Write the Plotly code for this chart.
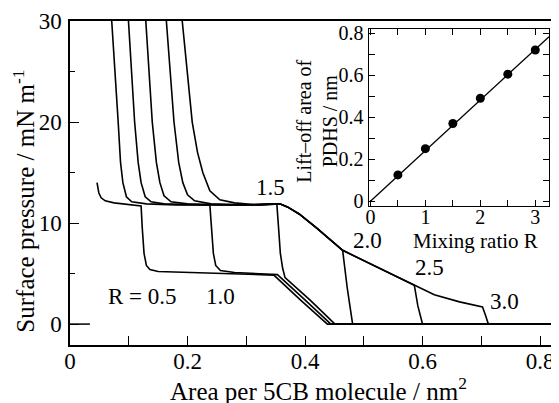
import plotly.graph_objects as go

# ---------------- data ----------------
# Main isotherms: area per 5CB molecule (nm^2) vs surface pressure (mN/m)
r05_area = [0.046, 0.049, 0.053, 0.060, 0.075, 0.100, 0.121, 0.123, 0.126, 0.130, 0.136, 0.150, 0.200, 0.260, 0.320, 0.347, 0.392, 0.438, 0.829]
r05_pres = [14.0, 13.0, 12.5, 12.2, 12.0, 11.8, 11.7, 9.5, 7.0, 5.8, 5.4, 5.2, 5.1, 5.0, 4.9, 4.85, 2.4, 0.0, 0.0]

r10_area = [0.071, 0.077, 0.082, 0.086, 0.090, 0.096, 0.105, 0.130, 0.180, 0.238, 0.241, 0.244, 0.248, 0.256, 0.280, 0.330, 0.353, 0.398, 0.444, 0.829]
r10_pres = [30.0, 25.0, 20.0, 16.0, 14.0, 12.6, 12.1, 11.9, 11.8, 11.8, 9.5, 7.0, 5.8, 5.3, 5.1, 5.0, 4.9, 2.5, 0.0, 0.0]

r15_area = [0.0995, 0.105, 0.110, 0.116, 0.121, 0.128, 0.138, 0.160, 0.220, 0.300, 0.352, 0.355, 0.358, 0.362, 0.366, 0.410, 0.451, 0.829]
r15_pres = [30.0, 25.0, 20.0, 16.0, 14.0, 12.6, 12.1, 11.9, 11.8, 11.8, 11.9, 9.5, 7.0, 5.5, 4.6, 2.3, 0.0, 0.0]

r20_area = [0.129, 0.135, 0.140, 0.147, 0.153, 0.160, 0.172, 0.200, 0.260, 0.320, 0.357, 0.370, 0.390, 0.420, 0.464, 0.472, 0.481, 0.829]
r20_pres = [30.0, 25.0, 20.0, 16.0, 14.0, 12.7, 12.1, 11.9, 11.8, 11.8, 11.9, 11.6, 10.9, 9.5, 7.3, 3.5, 0.0, 0.0]

r25_area = [0.164, 0.170, 0.177, 0.185, 0.192, 0.200, 0.212, 0.240, 0.300, 0.357, 0.370, 0.390, 0.420, 0.464, 0.500, 0.532, 0.560, 0.586, 0.592, 0.600, 0.829]
r25_pres = [30.0, 25.0, 20.0, 16.0, 14.0, 12.8, 12.2, 11.9, 11.8, 11.9, 11.6, 10.9, 9.5, 7.3, 6.3, 5.4, 4.6, 3.85, 1.8, 0.0, 0.0]

r30_area = [0.191, 0.199, 0.208, 0.217, 0.226, 0.238, 0.255, 0.280, 0.320, 0.357, 0.370, 0.390, 0.420, 0.464, 0.500, 0.532, 0.560, 0.586, 0.620, 0.663, 0.690, 0.702, 0.707, 0.712, 0.829]
r30_pres = [30.0, 25.0, 20.0, 17.0, 15.0, 13.2, 12.3, 12.0, 11.8, 11.9, 11.6, 10.9, 9.5, 7.3, 6.3, 5.4, 4.6, 3.85, 2.9, 2.2, 1.9, 1.7, 0.9, 0.0, 0.0]

curve_labels = ["R = 0.5", "1.0", "1.5", "2.0", "2.5", "3.0"]
label_area = [0.124, 0.256, 0.341, 0.507, 0.612, 0.740]
label_pres = [2.7, 2.7, 13.5, 8.3, 5.6, 2.2]

# Inset: lift-off area of PDHS vs mixing ratio R
mix_ratio = [0.5, 1.0, 1.5, 2.0, 2.5, 3.0]
liftoff = [0.125, 0.25, 0.37, 0.49, 0.605, 0.72]
fit_ratio = [0.0, 3.25]
fit_slope = 0.241

main_xticks = [0, 0.2, 0.4, 0.6, 0.8]
main_yticks = [0, 10, 20, 30]
inset_xticks = [0, 1, 2, 3]
inset_yticks = [0, 0.2, 0.4, 0.6, 0.8]

# ---------------- figure ----------------
FONT = "Liberation Serif, Times New Roman, Times, serif"
fig = go.Figure()

curves = [(r05_area, r05_pres), (r10_area, r10_pres), (r15_area, r15_pres),
          (r20_area, r20_pres), (r25_area, r25_pres), (r30_area, r30_pres)]
for xs, ys in curves:
    fig.add_trace(go.Scatter(x=xs, y=ys, mode="lines",
                             line=dict(color="black", width=1.6),
                             showlegend=False, hoverinfo="skip"))

fig.add_trace(go.Scatter(x=fit_ratio, y=[fit_slope * r for r in fit_ratio],
                         mode="lines", line=dict(color="black", width=1.3),
                         xaxis="x2", yaxis="y2", showlegend=False))
fig.add_trace(go.Scatter(x=mix_ratio, y=liftoff, mode="markers",
                         marker=dict(color="black", size=9),
                         xaxis="x2", yaxis="y2", showlegend=False))

annotations = []
for t, xa, ya in zip(curve_labels, label_area, label_pres):
    annotations.append(dict(x=xa, y=ya, xref="x", yref="y", text=t,
                            xanchor="center", yanchor="middle",
                            showarrow=False, font=dict(size=23, color="black", family=FONT)))

# the page body adds an 8 px offset; lay out in reference pixels minus that offset
OFF = 8
W, H = 559 - OFF, 403 - OFF
L, R, T, B = 70 - OFF, 1, 20 - OFF, H - (345 - OFF)
pw, ph = W - L - R, H - T - B

def px(xp):
    return (xp - OFF - L) / pw

def py(yp):
    return (H - B - (yp - OFF)) / ph

def paper_text(text, xp, yp, size, angle=0):
    return dict(x=px(xp), y=py(yp), xref="paper", yref="paper", text=text,
                xanchor="center", yanchor="middle", textangle=angle,
                showarrow=False, font=dict(size=size, color="black", family=FONT))

annotations += [
    paper_text("Area per 5CB molecule / nm<sup>2</sup>", 320, 389, 25),
    paper_text("Surface pressure / mN m<sup>-1</sup>", 24, 201, 25, -90),
    paper_text("Lift\u2013off area of<br>PDHS / nm", 318, 120, 20, -90),
    paper_text("Mixing ratio R", 477, 241, 21),
]

axis_common = dict(showgrid=False, zeroline=False, showline=True, linecolor="black",
                   linewidth=1.5, ticks="inside", tickcolor="black", tickwidth=1.3,
                   tickfont=dict(size=23, color="black", family=FONT))

fig.update_layout(
    width=W, height=H,
    margin=dict(l=L, r=R, t=T, b=B),
    paper_bgcolor="white", plot_bgcolor="white",
    font=dict(family=FONT, color="black"),
    showlegend=False,
    annotations=annotations,
    xaxis=dict(**axis_common, range=[0, pw / 590.0], tickvals=main_xticks,
               ticktext=["0", "0.2", "0.4", "0.6", "0.8"], ticklen=9, mirror=True,
               ticklabelstandoff=-5,
               minor=dict(dtick=0.1, tick0=0, ticks="inside", ticklen=9,
                          tickcolor="black", tickwidth=1.3)),
    yaxis=dict(**axis_common, range=[-2.07, 30], tickvals=main_yticks, ticklen=9,
               mirror=True, ticklabelstandoff=2,
               minor=dict(dtick=5, tick0=0, ticks="inside", ticklen=5,
                          tickcolor="black", tickwidth=1.3)),
    xaxis2=dict(showgrid=False, zeroline=False, showline=True, linecolor="black",
                linewidth=1.3, ticks="inside", tickcolor="black", tickwidth=1.1,
                ticklen=6, mirror="allticks",
                tickfont=dict(size=20, color="black", family=FONT),
                domain=[px(370), px(551)], range=[-0.03, 3.25], anchor="y2",
                tickvals=inset_xticks, ticklabelstandoff=-8,
                minor=dict(dtick=0.5, tick0=0, ticks="inside", ticklen=6,
                           tickcolor="black", tickwidth=1.1)),
    yaxis2=dict(showgrid=False, zeroline=False, showline=True, linecolor="black",
                linewidth=1.3, ticks="inside", tickcolor="black", tickwidth=1.1,
                ticklen=6, mirror="allticks",
                tickfont=dict(size=20, color="black", family=FONT),
                domain=[py(206), py(28)], range=[-0.025, 0.82], anchor="x2",
                tickvals=inset_yticks, ticktext=["0", "0.2", "0.4", "0.6", "0.8"],
                minor=dict(dtick=0.1, tick0=0, ticks="inside", ticklen=6,
                           tickcolor="black", tickwidth=1.1)),
)

fig.add_shape(type="line", xref="paper", yref="y", x0=0, x1=px(90), y0=0, y1=0,
              line=dict(color="black", width=1.5))

fig.write_html("out.html")
